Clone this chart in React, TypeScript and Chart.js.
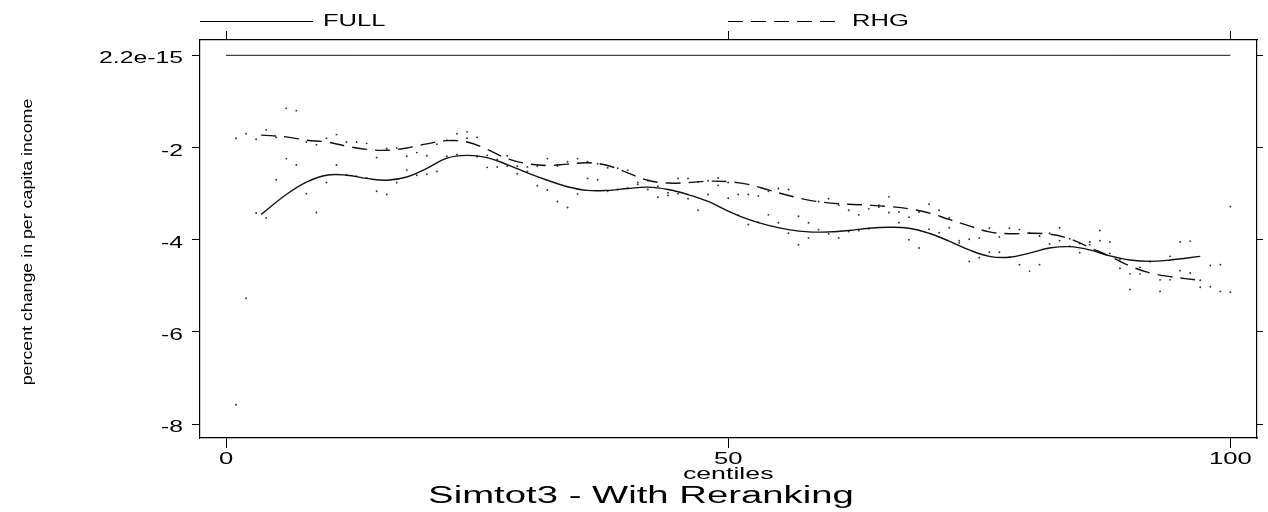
import React, { useEffect, useRef } from 'react';
import { Chart, registerables } from 'chart.js';

Chart.register(...registerables);

// ---- data ----
const centiles = [
  1, 2, 3, 4, 5, 6, 7, 8, 9, 10, 11, 12, 13, 14, 15, 16, 17, 18, 19, 20,
  21, 22, 23, 24, 25, 26, 27, 28, 29, 30, 31, 32, 33, 34, 35, 36, 37, 38, 39, 40,
  41, 42, 43, 44, 45, 46, 47, 48, 49, 50, 51, 52, 53, 54, 55, 56, 57, 58, 59, 60,
  61, 62, 63, 64, 65, 66, 67, 68, 69, 70, 71, 72, 73, 74, 75, 76, 77, 78, 79, 80,
  81, 82, 83, 84, 85, 86, 87, 88, 89, 90, 91, 92, 93, 94, 95, 96, 97, 98, 99, 100,
];

const rhgDots = [
  -1.80, -1.70, -1.82, -1.62, -1.78, -1.15, -1.20, -1.88, -1.94, -1.80,
  -1.72, -1.88, -1.88, -1.91, -2.22, -2.02, -2.01, -2.19, -2.11, -2.18,
  -1.93, -1.84, -1.70, -1.66, -1.78, -2.17, -2.26, -2.18, -2.40, -2.42,
  -2.40, -2.24, -2.40, -2.31, -2.24, -2.31, -2.35, -2.44, -2.45, -2.49,
  -2.76, -2.72, -2.84, -2.98, -2.67, -2.67, -2.75, -2.72, -2.66, -2.76,
  -3.02, -3.02, -3.05, -2.95, -2.89, -2.91, -3.49, -3.63, -3.17, -3.11,
  -3.25, -3.36, -3.46, -3.33, -3.25, -3.07, -3.40, -3.51, -3.40, -3.23,
  -3.36, -3.53, -4.02, -3.99, -3.96, -3.75, -3.94, -3.75, -3.78, -3.85,
  -3.92, -3.86, -3.74, -3.98, -4.08, -4.05, -3.80, -4.05, -4.43, -4.74,
  -4.60, -4.47, -4.87, -4.36, -4.05, -4.03, -4.88, -4.56, -4.54, -3.28,
];

const fullDots = [
  -7.58, -5.27, -3.42, -3.53, -2.70, -2.24, -2.38, -3.00, -3.41, -2.76,
  -2.38, -2.59, -2.62, -2.66, -2.95, -3.02, -2.76, -2.49, -2.60, -2.58,
  -2.52, -2.19, -2.15, -1.80, -2.20, -2.43, -2.42, -2.40, -2.57, -2.52,
  -2.83, -2.92, -3.17, -3.30, -3.01, -2.67, -2.70, -2.95, -2.91, -2.88,
  -2.80, -2.91, -3.08, -3.04, -3.00, -3.11, -3.36, -3.02, -2.82, -3.10,
  -3.47, -3.67, -3.62, -3.46, -3.63, -3.86, -4.11, -3.96, -3.78, -3.87,
  -3.96, -3.82, -3.80, -3.76, -3.29, -3.41, -3.63, -4.00, -4.18, -3.77,
  -3.85, -3.74, -4.07, -4.47, -4.39, -4.27, -4.27, -4.38, -4.54, -4.68,
  -4.54, -4.09, -4.02, -4.14, -4.28, -4.11, -4.02, -4.30, -4.62, -5.08,
  -4.74, -4.47, -5.12, -4.87, -4.67, -4.72, -5.03, -5.02, -5.12, -5.14,
];

const smoothX = [
  3.5, 6, 8, 10, 12, 14, 16, 18, 20, 22, 24, 26, 28, 30, 32, 34, 36, 38, 40, 42,
  44, 46, 48, 50, 52, 54, 56, 58, 60, 62, 64, 66, 68, 70, 72, 74, 76, 78, 80, 82,
  84, 86, 88, 90, 92, 94, 97,
];

const fullSmooth = [
  -3.45, -3.02, -2.75, -2.60, -2.60, -2.67, -2.71, -2.64, -2.45, -2.23,
  -2.17, -2.22, -2.37, -2.55, -2.71, -2.85, -2.93, -2.93, -2.89, -2.86,
  -2.91, -3.02, -3.17, -3.38, -3.56, -3.69, -3.78, -3.83, -3.83, -3.80,
  -3.75, -3.73, -3.75, -3.86, -4.03, -4.22, -4.36, -4.38, -4.29, -4.18,
  -4.15, -4.22, -4.35, -4.44, -4.47, -4.44, -4.36,
];

const rhgSmooth = [
  -1.73, -1.77, -1.84, -1.88, -1.97, -2.04, -2.06, -2.01, -1.92, -1.85,
  -1.88, -2.04, -2.24, -2.35, -2.39, -2.36, -2.33, -2.39, -2.55, -2.71,
  -2.77, -2.76, -2.73, -2.74, -2.80, -2.92, -3.04, -3.14, -3.20, -3.23,
  -3.25, -3.28, -3.33, -3.42, -3.56, -3.70, -3.83, -3.87, -3.86, -3.88,
  -3.98, -4.17, -4.36, -4.57, -4.72, -4.80, -4.88,
];

const baselineX = [0, 100];
const baselineY = [2.2e-15, 2.2e-15];

const xTickValues = [0, 50, 100];
const xTickLabels = ['0', '50', '100'];
const yTickValues = [2.2e-15, -2, -4, -6, -8];
const yTickLabels = ['2.2e-15', '-2', '-4', '-6', '-8'];
const legendLabels = ['FULL', 'RHG'];
const xTitle = 'centiles';
const yTitle = 'percent change in per capita income';
const chartTitle = 'Simtot3 - With Reranking';

// ---- helpers ----
const FONT = '"Liberation Sans", Arial, sans-serif';
const SX = 1.66;

function drawText(
  ctx: CanvasRenderingContext2D,
  text: string,
  x: number,
  y: number,
  size: number,
  sx: number,
  align: CanvasTextAlign,
  rotate = 0,
) {
  ctx.save();
  ctx.translate(x, y);
  if (rotate) ctx.rotate(rotate);
  ctx.scale(sx, 1);
  ctx.font = `${size}px ${FONT}`;
  ctx.textAlign = align;
  ctx.textBaseline = 'alphabetic';
  ctx.fillStyle = '#000';
  ctx.fillText(text, 0, 0);
  ctx.restore();
}

const decorPlugin = {
  id: 'stataDecor',
  afterDraw(chart: any) {
    const ctx: CanvasRenderingContext2D = chart.ctx;
    const xs = chart.scales.x;
    const ys = chart.scales.y;
    const area = chart.chartArea;

    // y tick labels
    yTickValues.forEach((v, i) => {
      const py = ys.getPixelForValue(v);
      drawText(ctx, yTickLabels[i], area.left - 17, py + 8, 16.5, 1.5, 'right');
    });
    // x tick labels
    xTickValues.forEach((v, i) => {
      const px = xs.getPixelForValue(v);
      drawText(ctx, xTickLabels[i], px, area.bottom + 25.5, 16, 1.6, 'center');
    });
    // x title
    drawText(ctx, xTitle, xs.getPixelForValue(50), area.bottom + 41, 16.5, 1.62, 'center');
    // main title
    drawText(ctx, chartTitle, 641, 502.5, 23.5, 1.63, 'center');
    // y title (rotated)
    drawText(ctx, yTitle, 32, (area.top + area.bottom) / 2 + 3, 14, 1.27, 'center', -Math.PI / 2);

    // legend
    const ly = 21.5;
    ctx.save();
    ctx.strokeStyle = '#000';
    ctx.lineWidth = 1;
    ctx.beginPath();
    ctx.moveTo(area.left, ly);
    ctx.lineTo(313, ly);
    ctx.stroke();
    ctx.setLineDash([15, 8]);
    ctx.beginPath();
    ctx.moveTo(728, ly);
    ctx.lineTo(842, ly);
    ctx.stroke();
    ctx.restore();
    drawText(ctx, legendLabels[0], 323, 26, 16.5, 1.55, 'left');
    drawText(ctx, legendLabels[1], 852, 26, 16.5, 1.55, 'left');
  },
};

const X_MIN = -2.59;
const X_MAX = 102.65;
const Y_MIN = -8.30;
const Y_MAX = 0.332;

export default function App() {
  const canvasRef = useRef<HTMLCanvasElement | null>(null);

  useEffect(() => {
    if (!canvasRef.current) return;

    const toPoints = (xsArr: number[], ysArr: number[]) =>
      xsArr.map((x, i) => ({ x, y: ysArr[i] }));

    const lineStyle = {
      showLine: true,
      pointRadius: 0,
      pointHoverRadius: 0,
      borderColor: '#111',
      borderWidth: 1.4,
      tension: 0.4,
      fill: false,
    };
    const dotStyle = {
      showLine: false,
      pointRadius: 0.95,
      pointHoverRadius: 0.95,
      pointBorderWidth: 0,
      backgroundColor: '#333',
      pointBackgroundColor: '#333',
      borderColor: '#333',
    };

    const axisCommon = (tickValues: number[], tickLength: number) => ({
      type: 'linear' as const,
      afterBuildTicks: (s: any) => {
        s.ticks = tickValues.map((v) => ({ value: v }));
      },
      ticks: { display: false },
      grid: {
        drawOnChartArea: false,
        drawTicks: true,
        tickLength,
        color: '#000',
        tickColor: '#000',
        lineWidth: 1,
      },
      border: { display: true, color: '#000', width: 1.2 },
    });

    const chart = new Chart(canvasRef.current, {
      type: 'scatter',
      data: {
        datasets: [
          { label: 'baseline', data: toPoints(baselineX, baselineY), ...lineStyle, tension: 0, borderWidth: 1 },
          { label: legendLabels[0], data: toPoints(smoothX, fullSmooth), ...lineStyle },
          { label: legendLabels[1], data: toPoints(smoothX, rhgSmooth), ...lineStyle, borderDash: [15, 8] },
          { label: 'rhg points', data: toPoints(centiles, rhgDots), ...dotStyle },
          { label: 'full points', data: toPoints(centiles, fullDots), ...dotStyle },
        ],
      },
      options: {
        animation: false,
        responsive: false,
        events: [],
        layout: { padding: { top: 31, left: 0, right: 0, bottom: 0 } },
        plugins: {
          legend: { display: false },
          title: { display: false },
          tooltip: { enabled: false },
        },
        scales: {
          x: {
            ...axisCommon(xTickValues, 10),
            position: 'bottom',
            min: X_MIN,
            max: X_MAX,
            afterFit: (s: any) => { s.height = 74; },
          },
          x2: {
            ...axisCommon(xTickValues, 9),
            axis: 'x',
            position: 'top',
            min: X_MIN,
            max: X_MAX,
            afterFit: (s: any) => { s.height = 9; },
          },
          y: {
            ...axisCommon(yTickValues, 8),
            position: 'left',
            min: Y_MIN,
            max: Y_MAX,
            afterFit: (s: any) => { s.width = 200; },
          },
          y2: {
            ...axisCommon(yTickValues, 6),
            axis: 'y',
            position: 'right',
            min: Y_MIN,
            max: Y_MAX,
            afterFit: (s: any) => { s.width = 11; },
          },
        } as any,
      },
      plugins: [decorPlugin],
    });

    return () => chart.destroy();
  }, []);

  return (
    <div style={{ position: 'absolute', left: 0, top: 0, width: 1268, height: 512, background: '#fff' }}>
      <canvas ref={canvasRef} width={1268} height={512} style={{ display: 'block' }} />
    </div>
  );
}
